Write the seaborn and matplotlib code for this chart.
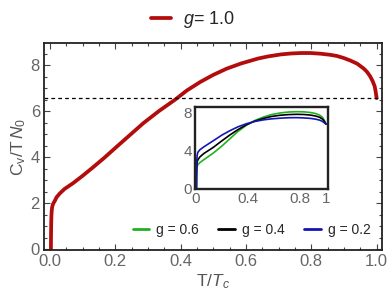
import seaborn as sns
import matplotlib.pyplot as plt
import matplotlib.ticker as mticker
import numpy as np
import pandas as pd

# main curve, g = 1.0
t_main = [0.003, 0.0033, 0.0038, 0.0045, 0.0055, 0.007, 0.01, 0.015, 0.02, 0.03, 0.045, 0.071,
          0.101, 0.132, 0.167, 0.204, 0.243, 0.286, 0.334, 0.383, 0.419, 0.46, 0.5, 0.541,
          0.586, 0.637, 0.667, 0.707, 0.738, 0.768, 0.798, 0.829, 0.859, 0.879, 0.9, 0.92, 0.94,
          0.96, 0.97, 0.98, 0.988, 0.994, 0.997, 1.0]
c_main = [0.0, 0.6, 1.1, 1.45, 1.68, 1.85, 1.98, 2.1, 2.25, 2.42, 2.62, 2.87,
          3.2, 3.56, 3.98, 4.45, 4.94, 5.48, 6.01, 6.5, 6.9, 7.27, 7.58, 7.85,
          8.08, 8.29, 8.38, 8.47, 8.51, 8.53, 8.53, 8.5, 8.45, 8.4, 8.31, 8.2, 8.07,
          7.86, 7.72, 7.52, 7.3, 7.08, 6.85, 6.57]
c_limit = 6.57

# inset curves
t_in = [0.003, 0.0035, 0.0045, 0.006, 0.009, 0.015, 0.03, 0.06, 0.133, 0.2, 0.26, 0.32,
        0.39, 0.45, 0.52, 0.58, 0.646, 0.71, 0.775, 0.83, 0.88, 0.92, 0.95, 0.97, 0.985, 1.0]
c_g06 = [0.0, 0.8, 1.5, 2.0, 2.3, 2.5, 2.7, 3.0, 3.7, 4.45, 5.2, 5.95,
         6.65, 7.12, 7.5, 7.75, 7.92, 8.02, 8.06, 8.04, 7.97, 7.86, 7.7, 7.5, 7.2, 6.74]
c_g04 = [0.0, 1.0, 1.8, 2.4, 2.8, 3.0, 3.3, 3.65, 4.3, 5.0, 5.6, 6.15,
         6.7, 7.05, 7.35, 7.55, 7.68, 7.75, 7.78, 7.76, 7.7, 7.6, 7.47, 7.3, 7.08, 6.74]
c_g02 = [0.0, 1.3, 2.3, 3.0, 3.5, 3.8, 4.05, 4.35, 5.0, 5.6, 6.05, 6.45,
         6.8, 7.02, 7.2, 7.3, 7.37, 7.42, 7.43, 7.4, 7.35, 7.27, 7.17, 7.05, 6.9, 6.74]

main_df = pd.DataFrame({"T": t_main, "C": c_main})
inset_df = pd.concat([
    pd.DataFrame({"T": t_in, "C": c_g06, "g": "g = 0.6"}),
    pd.DataFrame({"T": t_in, "C": c_g04, "g": "g = 0.4"}),
    pd.DataFrame({"T": t_in, "C": c_g02, "g": "g = 0.2"}),
])

sns.set_style("ticks")
plt.rcParams["font.family"] = ["Liberation Sans", "DejaVu Sans"]
plt.rcParams["mathtext.fontset"] = "custom"
plt.rcParams["mathtext.rm"] = "Liberation Sans"
plt.rcParams["mathtext.it"] = "Liberation Sans:italic"

fig = plt.figure(figsize=(3.9, 3.06), dpi=100)
ax = fig.add_axes([0.113, 0.183, 0.867, 0.676])

sns.lineplot(data=main_df, x="T", y="C", color="#b30c0c", lw=2.7, ax=ax, sort=False,
             legend=False)
ax.axhline(c_limit, color="black", lw=0.9, ls=(0, (3, 2.5)))

ax.set_xlim(-0.018, 1.017)
ax.set_ylim(-0.04, 8.96)
ax.xaxis.set_major_locator(mticker.MultipleLocator(0.2))
ax.xaxis.set_minor_locator(mticker.MultipleLocator(0.05))
ax.yaxis.set_major_locator(mticker.MultipleLocator(2))
ax.yaxis.set_minor_locator(mticker.MultipleLocator(0.5))
ax.xaxis.set_major_formatter(mticker.FormatStrFormatter("%.1f"))
ax.tick_params(which="both", direction="in", top=True, right=True, color="#444",
               labelcolor="#666", labelsize=12, width=0.8)
ax.tick_params(which="major", length=4, pad=3)
ax.tick_params(which="minor", length=2.5)
for s in ax.spines.values():
    s.set_linewidth(1.3)
    s.set_color("#222")
ax.set_xlabel("T/$T_c$", fontsize=12.5, color="#555", labelpad=2)
ax.set_ylabel("$\\mathrm{C_v/T}\\,N_0$", fontsize=12.5, color="#555", labelpad=2)

fig.legend(handles=ax.get_lines()[:1], labels=["$g$= 1.0"], loc="center",
           bbox_to_anchor=(0.495, 0.935), frameon=False, fontsize=13, handlelength=1.1,
           handletextpad=0.7)

ins = fig.add_axes([0.5, 0.382, 0.341, 0.268])
sns.lineplot(data=inset_df, x="T", y="C", hue="g", lw=1.2, ax=ins, sort=False,
             palette=["#1fb21f", "black", "#1515b5"], legend=True)
ins.set_xlim(-0.008, 1.015)
ins.set_ylim(-0.1, 8.54)
ins.set_xticks([0, 0.4, 0.8, 1])
ins.set_xticklabels(["0", "0.4", "0.8", "1"])
ins.set_yticks([0, 4, 8])
ins.tick_params(length=0, labelcolor="#666", labelsize=11, pad=2)
ins.set_xlabel("")
ins.set_ylabel("")
for s in ins.spines.values():
    s.set_linewidth(1.7)
    s.set_color("#222")

h, l = ins.get_legend_handles_labels()
ins.legend_.remove()
for hh in h:
    hh.set_linewidth(2)
fig.legend(h, l, loc="center", bbox_to_anchor=(0.645, 0.248), ncol=3, frameon=False,
           fontsize=10, handlelength=1.2, handletextpad=0.5, columnspacing=1.4)

fig.savefig("out.png", dpi=100)
